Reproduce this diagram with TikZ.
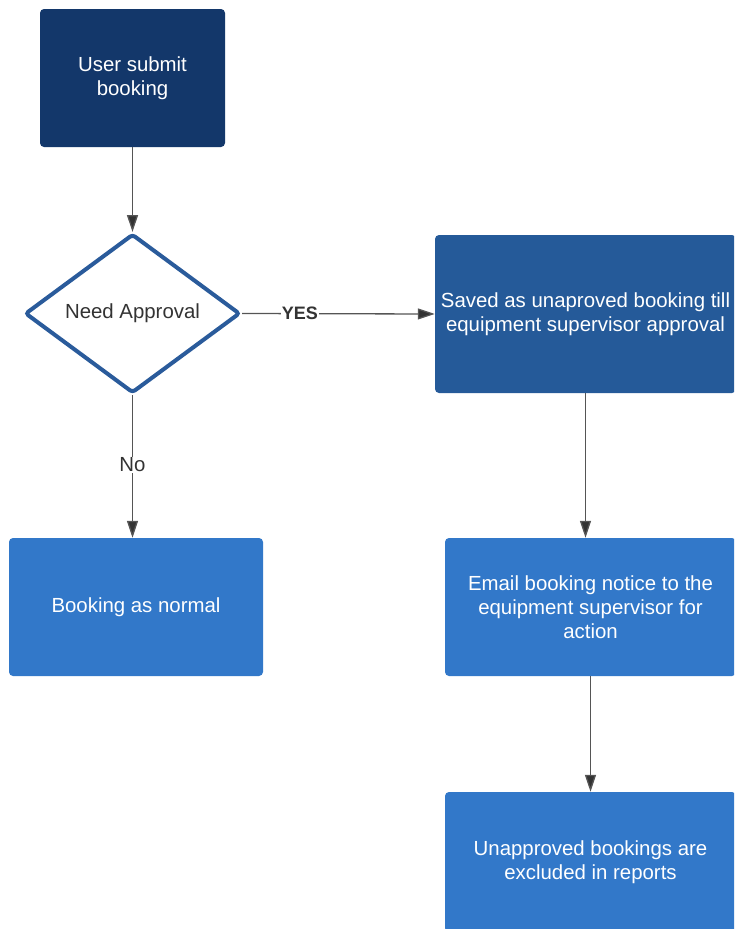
\documentclass[tikz,border=0pt]{standalone}
\usepackage{fontspec}
\setmainfont{Liberation Sans}
\usetikzlibrary{shapes.geometric,arrows.meta}
\definecolor{navy}{HTML}{13376A}
\definecolor{midblue}{HTML}{255A99}
\definecolor{lightblue}{HTML}{3278C9}
\definecolor{dstroke}{HTML}{2A5B9B}
\definecolor{linegray}{HTML}{555555}
\definecolor{labelgray}{HTML}{333333}
\tikzset{
  box/.style={rectangle, rounded corners=4pt, draw=none, text=white, align=center,
    font=\fontsize{20.4}{24}\selectfont, inner sep=0pt},
  decision/.style={diamond, draw=dstroke, line width=4pt, fill=white, rounded corners=3pt,
    text=labelgray, font=\fontsize{20.4}{24}\selectfont, inner sep=0pt,
    minimum width=215pt, minimum height=159pt},
  conn/.style={draw=linegray, line width=1.3pt, -{Triangle[length=17pt 0,width=11pt 0,fill=black!80]}},
  lbl/.style={fill=white, inner sep=1pt, text=labelgray, font=\fontsize{20.4}{24}\selectfont},
}
\begin{document}
\begin{tikzpicture}[x=1pt,y=-1pt]
\useasboundingbox (0,0) rectangle (734,929);
\begin{scope}
\clip (0,0) rectangle (734,929);
\node[box, fill=navy, minimum width=185pt, minimum height=138pt] (b1) at (132.5,78) {User submit\\booking};
\node[box, fill=midblue, minimum width=301pt, minimum height=158pt] (b2) at (585.5,314) {Saved as unaproved booking till\\equipment supervisor approval};
\node[box, fill=lightblue, minimum width=254pt, minimum height=138pt] (b3) at (136,607) {Booking as normal};
\node[box, fill=lightblue, minimum width=291pt, minimum height=138pt] (b4) at (590.5,607) {Email booking notice to the\\equipment supervisor for\\action};
\node[box, fill=lightblue, minimum width=291pt, minimum height=140pt] (b5) at (590.5,862) {Unapproved bookings are\\excluded in reports};
\end{scope}
\node[decision] (d) at (132.5,313.5) {Need Approval};
\draw[conn] (b1.south) -- (d.north);
\draw[conn] (d.east) -- node[lbl, pos=0.3, font=\bfseries\fontsize{18}{22}\selectfont] {YES} (b2.west);
\draw[conn] (d.south) -- node[lbl, pos=0.49] {No} (d.south |- b3.north);
\draw[conn] (b2.south) -- (b2.south |- b4.north);
\draw[conn] (b4.south) -- (b5.north);
\end{tikzpicture}
\end{document}
